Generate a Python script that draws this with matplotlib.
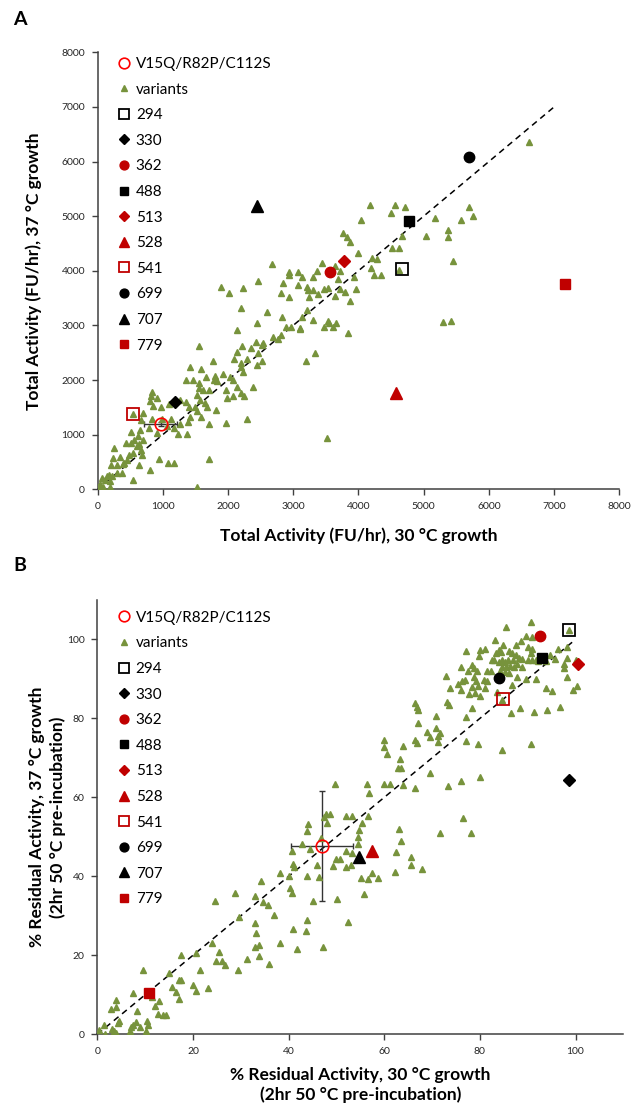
import matplotlib
matplotlib.use("Agg")
import matplotlib.pyplot as plt
import numpy as np

plt.rcParams['font.family'] = ['Lato', 'DejaVu Sans']

# Panel A: total activity of the variants (FU/hr), 30 °C vs 37 °C growth
var_a_x = [1890, 2225, 2460, 2850, 3075, 2010, 2810, 2940, 2195, 2605, 2830, 2440,
           3105, 2970, 2135, 2890, 2685, 2540, 2430, 1560, 2135, 2215, 2360, 2460,
           2520, 2820, 2765, 2095, 2285, 2195, 1775, 1420, 1580, 1920, 2030, 2080,
           2195, 2225, 2440, 2520, 1355, 1460, 1550, 1665, 1795, 1785, 1835, 1610,
           1715, 1550, 1970, 2135, 2205, 2245, 2390, 1990, 2080, 835, 825, 805,
           855, 905, 980, 1090, 1265, 1355, 1400, 1530, 1570, 1645, 1500, 1520,
           1675, 1815, 1590, 1705, 1420, 1385, 1265, 1175, 1060, 990, 1130, 835,
           705, 670, 785, 650, 620, 510, 520, 435, 560, 705, 640, 600,
           660, 680, 550, 490, 455, 405, 385, 345, 255, 245, 210, 295,
           375, 305, 170, 220, 140, 70, 110, 190, 40, 10, 90, 190,
           1080, 1175, 940, 805, 550, 640, 915, 1235, 1375, 1970, 2285, 1715,
           1530, 550,
           6615, 4175, 4555, 4720, 4500, 4035, 5180, 5700, 5750, 5570, 3770, 3820,
           3865, 5030, 5370, 5370, 4675, 3995, 4510, 4630, 4210, 4285, 4195, 5450,
           3435, 3360, 3645, 3720, 3310, 3130, 3935, 3680, 4240, 4345, 4620, 3210,
           3220, 3310, 3465, 3535, 3720, 3795, 3960, 3645, 3865, 3235, 3385,
           3210, 3310, 3465, 3540, 3555, 3605, 3660, 3845, 3130, 3105, 5290, 5425,
           3335, 3190, 3515,
           2680, 2935, 2935, 3080]
var_a_y = [3710, 3680, 3805, 3770, 3740, 3600, 3600, 3515, 3315, 3255, 3160, 3040,
           2930, 2980, 2920, 2980, 2795, 2675, 2705, 2625, 2520, 2615, 2585, 2490,
           2645, 2825, 2745, 2380, 2385, 2320, 2340, 2235, 2200, 2115, 2065, 2005,
           2245, 2155, 2280, 2340, 2005, 2005, 1940, 2050, 2075, 2005, 1975, 1820,
           1820, 1850, 1820, 1880, 1770, 1700, 1880, 1670, 1710, 1790, 1700, 1625,
           1525, 1670, 1505, 1565, 1635, 1590, 1515, 1730, 1635, 1575, 1515, 1425,
           1515, 1455, 1330, 1200, 1320, 1235, 1200, 1125, 1150, 1285, 1285, 1285,
           1395, 1270, 1120, 1090, 980, 1040, 845, 845, 905, 905, 830, 785,
           720, 630, 660, 630, 540, 490, 465, 600, 755, 570, 450, 450,
           295, 295, 265, 245, 235, 205, 175, 160, 100, 50, 50, 40,
           480, 490, 555, 355, 175, 440, 1025, 1015, 1015, 1210, 1285, 550,
           50, 1385,
           6365, 5200, 5200, 5175, 5050, 4925, 4970, 5160, 5010, 4925, 4700, 4625,
           4525, 4645, 4745, 4615, 4640, 4335, 4415, 4425, 4230, 4210, 4045, 4180,
           4140, 4005, 4080, 4005, 3895, 3885, 3885, 3850, 3920, 3920, 4015, 3710,
           3650, 3650, 3665, 3680, 3665, 3610, 3670, 3540, 3450, 3515, 3570,
           3285, 3100, 2980, 3090, 3040, 2965, 3040, 2870, 3160, 2950, 3070, 3080,
           2490, 2350, 945,
           4125, 3975, 3920, 3985]

# Panel B: % residual activity of the variants after 2 hr at 50 °C
var_b_x = [47.8, 48.6, 47.5, 52.1, 44.0, 43.8, 48.1, 42.8, 44.5, 46.8, 40.8, 41.0,
           41.1, 46.0, 43.8, 46.3, 49.9, 49.3, 50.7, 52.0, 52.1, 38.3, 40.1, 40.3,
           40.7, 34.2, 32.9, 34.7, 35.6, 28.8, 24.7, 29.7, 37.0, 45.0, 50.1, 52.4,
           32.9, 33.1, 32.9, 33.9, 41.0, 43.8, 43.6, 38.2, 41.8, 47.1, 24.0, 25.4,
           24.9, 26.1, 26.8, 31.4, 33.9, 35.8, 29.5, 20.6, 17.6, 21.4, 15.0, 17.0,
           17.4, 9.5, 15.6, 16.4, 20.0, 20.7, 23.2, 17.1, 7.5, 11.4, 12.9, 12.0,
           8.3, 12.6, 13.8, 14.3, 4.0, 3.9, 2.8, 4.6, 4.3, 8.1, 7.5, 7.1,
           6.8, 9.0, 10.4, 10.6, 10.2, 1.3, 3.1, 3.5, 3.9, 0.4, 1.7,
           53.3, 56.5, 55.4, 54.7, 54.5, 54.6, 53.2, 53.1, 55.2, 56.5, 57.4, 58.6,
           55.8, 62.2, 62.5, 63.1, 63.6, 65.6, 65.6, 67.9, 71.7, 76.5, 78.1,
           85.4, 90.6, 83.2, 87.5, 88.5, 89.7, 90.8, 90.0, 91.0, 90.7, 84.9, 83.9,
           83.3, 84.4, 86.1, 86.7, 87.5, 88.2, 88.9, 90.1, 90.8, 91.7, 92.2, 77.1,
           80.0, 81.0, 79.9, 82.5, 82.9, 83.9, 84.6, 85.3, 85.8, 86.9, 87.8, 84.6,
           85.4, 86.3, 87.2, 88.9, 84.2, 85.3, 86.1, 87.8, 89.7, 91.8, 76.1, 78.3,
           78.8, 77.6, 79.4, 81.5, 82.4, 72.9, 76.9, 76.3, 78.8, 79.2, 80.8, 81.5,
           75.4, 73.8, 76.0, 78.3, 79.7, 81.1, 77.8, 78.9, 80.1, 83.6, 86.7, 93.8,
           95.1, 96.3, 98.2, 95.7, 98.2, 97.5, 97.6, 98.3, 100.1, 100.3, 99.4, 94.6,
           93.9, 84.7, 73.2, 73.6, 66.4, 66.8, 67.0, 70.8, 78.3, 77.1, 86.5, 88.3,
           91.4, 94.0, 96.7, 67.0, 68.9, 70.8, 71.7, 71.3, 69.5, 71.3, 66.5, 66.8,
           77.1, 79.6, 60.0, 60.0, 60.6, 64.0, 63.3, 62.9, 63.5, 69.6, 84.6, 90.6,
           76.1, 80.1, 73.3, 66.5, 64.0, 60.0, 61.1, 56.8, 56.3, 49.7, 98.7]
var_b_y = [55.9, 55.8, 55.1, 55.4, 53.2, 51.6, 53.6, 48.3, 47.0, 49.6, 46.4, 43.1,
           42.4, 42.9, 40.2, 39.9, 44.3, 42.6, 44.5, 46.3, 42.3, 40.9, 40.2, 37.0,
           35.9, 38.7, 35.0, 33.6, 32.7, 35.7, 33.7, 29.8, 30.1, 33.7, 34.2, 28.4,
           28.1, 25.7, 22.2, 22.5, 26.7, 28.9, 26.1, 23.0, 21.5, 22.2, 23.0, 20.8,
           18.6, 18.6, 17.5, 19.0, 19.7, 17.8, 16.3, 20.7, 20.2, 16.3, 15.6, 13.8,
           13.8, 16.4, 11.9, 10.7, 12.4, 11.0, 11.7, 8.9, 10.5, 9.5, 8.3, 7.2,
           6.0, 5.1, 4.8, 5.0, 8.7, 7.0, 6.3, 3.3, 2.8, 3.0, 2.3, 1.8,
           0.9, 1.9, 3.3, 2.4, 0.9, 2.3, 1.3, 0.7, 0.2, 1.1, 0.1,
           55.4, 55.3, 53.6, 51.7, 49.9, 48.1, 45.8, 42.8, 39.7, 39.4, 40.8, 39.7,
           35.5, 41.0, 46.2, 51.9, 48.9, 45.0, 42.9, 41.9, 50.9, 54.7, 50.9,
           103.2, 104.5, 99.8, 98.7, 99.7, 101.0, 100.5, 98.0, 97.7, 96.6, 98.5, 97.3,
           96.5, 96.8, 97.1, 96.5, 96.1, 95.4, 95.1, 94.9, 94.8, 94.8, 94.6, 97.1,
           97.3, 97.6, 95.9, 94.9, 94.9, 94.4, 94.8, 94.3, 94.8, 94.8, 93.9, 93.1,
           93.1, 93.2, 92.9, 92.9, 91.9, 91.7, 91.4, 90.4, 90.0, 90.0, 92.9, 93.6,
           92.7, 91.9, 91.9, 92.1, 91.9, 90.7, 89.7, 89.5, 90.5, 89.5, 89.7, 89.4,
           88.7, 87.8, 87.3, 88.0, 88.3, 87.7, 86.3, 86.5, 85.8, 86.7, 88.5, 87.8,
           87.0, 97.7, 98.0, 95.0, 95.3, 93.8, 92.7, 90.4, 94.8, 88.2, 87.2, 96.0,
           94.6, 84.6, 84.1, 83.5, 84.0, 83.0, 82.1, 80.6, 82.6, 80.4, 81.3, 82.7,
           81.7, 82.1, 82.8, 78.9, 76.5, 77.5, 76.4, 75.5, 75.2, 74.0, 74.5, 73.7,
           74.3, 73.5, 74.5, 72.7, 71.1, 73.0, 69.8, 67.4, 67.4, 66.2, 72.0, 73.4,
           64.2, 65.1, 63.0, 62.4, 63.2, 63.5, 63.5, 61.1, 63.4, 63.4, 102.4]

# parent enzyme V15Q/R82P/C112S (mean +/- sd)
parent_a = (970, 1200)
parent_a_err = (250, 40)
parent_b = (47.0, 47.7)
parent_b_err = (6.5, 14.0)

# highlighted variants
ids = ['294', '330', '362', '488', '513', '528', '541', '699', '707', '779']
sel_a_x = [4665, 1190, 3565, 4780, 3785, 4575, 550, 5695, 2440, 7160]
sel_a_y = [4030, 1595, 3980, 4910, 4175, 1760, 1385, 6080, 5195, 3760]
sel_b_x = [98.7, 98.7, 92.6, 92.9, 100.6, 57.4, 84.8, 83.9, 54.7, 10.8]
sel_b_y = [102.4, 64.4, 100.8, 95.2, 93.9, 46.4, 84.8, 90.3, 45.0, 10.4]

RED = '#C00000'
GREEN = '#77933C'
styles = {
    '294': dict(marker='s', mfc='none', mec='black', ms=8, mew=1.3),
    '330': dict(marker='D', mfc='black', mec='black', ms=6),
    '362': dict(marker='o', mfc=RED, mec=RED, ms=7.5),
    '488': dict(marker='s', mfc='black', mec='black', ms=7.5),
    '513': dict(marker='D', mfc=RED, mec=RED, ms=6),
    '528': dict(marker='^', mfc=RED, mec=RED, ms=8),
    '541': dict(marker='s', mfc='none', mec=RED, ms=8, mew=1.3),
    '699': dict(marker='o', mfc='black', mec='black', ms=7.5),
    '707': dict(marker='^', mfc='black', mec='black', ms=8),
    '779': dict(marker='s', mfc=RED, mec=RED, ms=7.5),
}


def draw_panel(ax, vx, vy, parent, perr, sx, sy, line_end, leg_y):
    ax.plot([0, line_end], [0, line_end], ls=(0, (4, 3)), color='black', lw=1.1, zorder=1)
    ax.errorbar(parent[0], parent[1], xerr=perr[0], yerr=perr[1], fmt='none',
                ecolor='#333333', elinewidth=1, capsize=2, zorder=2)
    ax.plot(vx, vy, ls='none', marker='^', color=GREEN, ms=4.5, zorder=3, label='variants')
    ax.plot(parent[0], parent[1], ls='none', marker='o', mfc='none', mec='red',
            ms=9, mew=1.2, zorder=5, label='V15Q/R82P/C112S')
    for i, name in enumerate(ids):
        ax.plot(sx[i], sy[i], ls='none', zorder=4, label=name, **styles[name])

    h, l = ax.get_legend_handles_labels()
    order = [1, 0] + list(range(2, len(h)))
    ax.legend([h[i] for i in order], [l[i] for i in order], loc='upper left',
              bbox_to_anchor=(0.012, leg_y), frameon=False, fontsize=11,
              handlelength=0.9, handletextpad=0.3, labelspacing=0.76,
              markerscale=0.85)

    for s in ['top', 'right']:
        ax.spines[s].set_visible(False)
    for s in ['left', 'bottom']:
        ax.spines[s].set_color('#404040')
        ax.spines[s].set_linewidth(1.1)
    ax.tick_params(direction='out', length=4, width=1, color='#404040', pad=5,
                   labelsize=7.5, labelcolor='#262626')


fig = plt.figure(figsize=(6.34, 11.09), dpi=100)

ax1 = fig.add_axes([0.1538, 0.5588, 0.823, 0.394])
draw_panel(ax1, var_a_x, var_a_y, parent_a, parent_a_err, sel_a_x, sel_a_y, 7000, 1.021)
ax1.set_xlim(0, 8000)
ax1.set_ylim(0, 8000)
ax1.set_xticks(np.arange(0, 8001, 1000))
ax1.set_yticks(np.arange(0, 8001, 1000))
ax1.set_xlabel('Total Activity (FU/hr), 30 °C growth', fontsize=12.5, fontweight='bold',
               labelpad=12)
ax1.set_ylabel('Total Activity (FU/hr), 37 °C growth', fontsize=12.5, fontweight='bold',
               labelpad=14)

ax2 = fig.add_axes([0.1535, 0.0674, 0.8297, 0.3916])
draw_panel(ax2, var_b_x, var_b_y, parent_b, parent_b_err, sel_b_x, sel_b_y, 100, 1.007)
ax2.set_xlim(0, 110)
ax2.set_ylim(0, 110)
ax2.set_xticks(np.arange(0, 101, 20))
ax2.set_yticks(np.arange(0, 101, 20))
ax2.set_xlabel('% Residual Activity, 30 °C growth\n(2hr 50 °C pre-incubation)',
               fontsize=12.5, fontweight='bold', labelpad=8, linespacing=1.3)
ax2.set_ylabel('% Residual Activity, 37 °C growth\n(2hr 50 °C pre-incubation)',
               fontsize=12.5, fontweight='bold', labelpad=1, linespacing=1.3)

fig.text(0.021, 0.982, 'A', fontsize=14, fontweight='bold', va='center')
fig.text(0.021, 0.4905, 'B', fontsize=14, fontweight='bold', va='center')

fig.savefig('out.png', dpi=100)
